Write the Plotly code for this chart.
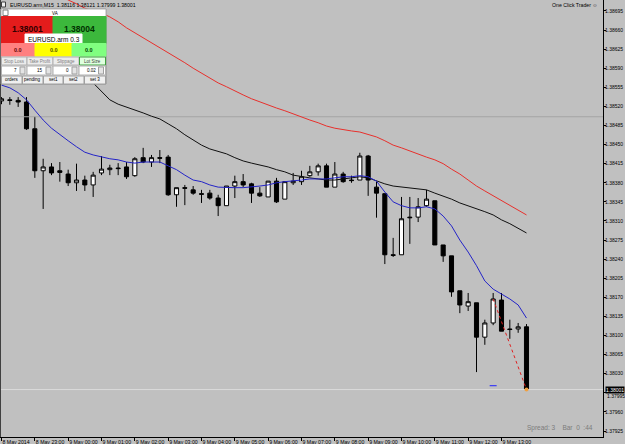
import plotly.graph_objects as go

# ---------------- data (EURUSD.arm, M15) ----------------
bar_index = list(range(64))
opens = [1.38530, 1.38532, 1.38531, 1.38528, 1.38479, 1.38402, 1.38409, 1.38402, 1.38396, 1.38380,
         1.38385, 1.38376, 1.38398, 1.38404, 1.38407, 1.38409, 1.38393, 1.38426, 1.38418, 1.38426,
         1.38427, 1.38358, 1.38371, 1.38367, 1.38360, 1.38361, 1.38352, 1.38338, 1.38374, 1.38382,
         1.38378, 1.38361, 1.38354, 1.38383, 1.38350, 1.38380, 1.38382, 1.38393, 1.38400, 1.38411,
         1.38372, 1.38396, 1.38385, 1.38385, 1.38429, 1.38372, 1.38360, 1.38248, 1.38248, 1.38317,
         1.38317, 1.38338, 1.38347, 1.38266, 1.38246, 1.38182, 1.38154, 1.38160, 1.38097, 1.38123,
         1.38165, 1.38112, 1.38112, 1.38116]
highs = [1.38537, 1.38537, 1.38537, 1.38537, 1.38501, 1.38424, 1.38416, 1.38418, 1.38404, 1.38415,
         1.38393, 1.38400, 1.38429, 1.38413, 1.38416, 1.38418, 1.38427, 1.38444, 1.38431, 1.38440,
         1.38431, 1.38371, 1.38376, 1.38374, 1.38367, 1.38367, 1.38358, 1.38374, 1.38393, 1.38396,
         1.38380, 1.38372, 1.38383, 1.38389, 1.38382, 1.38398, 1.38402, 1.38411, 1.38415, 1.38415,
         1.38418, 1.38400, 1.38393, 1.38435, 1.38431, 1.38382, 1.38360, 1.38279, 1.38354, 1.38354,
         1.38352, 1.38367, 1.38347, 1.38266, 1.38246, 1.38182, 1.38178, 1.38160, 1.38129, 1.38178,
         1.38178, 1.38129, 1.38123, 1.38121]
lows = [1.38524, 1.38523, 1.38519, 1.38477, 1.38389, 1.38332, 1.38394, 1.38382, 1.38374, 1.38365,
        1.38365, 1.38354, 1.38394, 1.38394, 1.38394, 1.38387, 1.38391, 1.38416, 1.38409, 1.38416,
        1.38356, 1.38336, 1.38339, 1.38358, 1.38343, 1.38349, 1.38319, 1.38338, 1.38352, 1.38372,
        1.38343, 1.38354, 1.38354, 1.38343, 1.38350, 1.38376, 1.38376, 1.38391, 1.38393, 1.38372,
        1.38372, 1.38380, 1.38380, 1.38385, 1.38356, 1.38316, 1.38231, 1.38244, 1.38248, 1.38268,
        1.38308, 1.38336, 1.38266, 1.38235, 1.38171, 1.38141, 1.38145, 1.38033, 1.38083, 1.38119,
        1.38108, 1.38094, 1.38105, 1.37999]
closes = [1.38534, 1.38531, 1.38528, 1.38479, 1.38402, 1.38409, 1.38398, 1.38399, 1.38380, 1.38385,
          1.38376, 1.38394, 1.38405, 1.38407, 1.38406, 1.38391, 1.38424, 1.38418, 1.38426, 1.38425,
          1.38358, 1.38371, 1.38370, 1.38361, 1.38359, 1.38352, 1.38338, 1.38374, 1.38382, 1.38376,
          1.38361, 1.38356, 1.38383, 1.38345, 1.38382, 1.38383, 1.38391, 1.38400, 1.38411, 1.38372,
          1.38396, 1.38382, 1.38384, 1.38429, 1.38385, 1.38361, 1.38248, 1.38247, 1.38314, 1.38316,
          1.38336, 1.38350, 1.38266, 1.38246, 1.38180, 1.38156, 1.38162, 1.38097, 1.38123, 1.38167,
          1.38108, 1.38111, 1.38116, 1.38001]

ma_fast_blue = [1.38559, 1.38554, 1.38545, 1.38532, 1.38513, 1.38495, 1.38480, 1.38468, 1.38457, 1.38446,
                1.38436, 1.38431, 1.38427, 1.38424, 1.38422, 1.38418, 1.38416, 1.38418, 1.38418, 1.38418,
                1.38411, 1.38404, 1.38394, 1.38385, 1.38382, 1.38376, 1.38372, 1.38371, 1.38371, 1.38371,
                1.38372, 1.38374, 1.38376, 1.38380, 1.38382, 1.38383, 1.38385, 1.38387, 1.38387, 1.38387,
                1.38389, 1.38391, 1.38391, 1.38393, 1.38391, 1.38383, 1.38363, 1.38345, 1.38338, 1.38334,
                1.38334, 1.38336, 1.38332, 1.38319, 1.38301, 1.38275, 1.38253, 1.38228, 1.38200, 1.38185,
                1.38176, 1.38167, 1.38156, 1.38132]
ma_mid_black = [None, None, None, None, None, None, None, None, 1.38614, 1.38598,
                1.38581, 1.38563, 1.38547, 1.38532, 1.38524, 1.38519, 1.38513, 1.38508, 1.38502, 1.38497,
                1.38488, 1.38479, 1.38468, 1.38458, 1.38449, 1.38442, 1.38438, 1.38433, 1.38426, 1.38420,
                1.38416, 1.38413, 1.38409, 1.38404, 1.38400, 1.38394, 1.38391, 1.38389, 1.38387, 1.38385,
                1.38385, 1.38387, 1.38389, 1.38391, 1.38389, 1.38383, 1.38378, 1.38374, 1.38372, 1.38371,
                1.38369, 1.38367, 1.38361, 1.38356, 1.38350, 1.38343, 1.38338, 1.38332, 1.38327, 1.38321,
                1.38312, 1.38305, 1.38297, 1.38288]
ma_slow_red = [None, None, None, None, None, None, None, 1.38724, 1.38715, 1.38708,
               1.38700, 1.38695, 1.38691, 1.38684, 1.38675, 1.38664, 1.38655, 1.38645, 1.38636, 1.38627,
               1.38618, 1.38609, 1.38600, 1.38590, 1.38581, 1.38572, 1.38563, 1.38556, 1.38548, 1.38541,
               1.38534, 1.38528, 1.38523, 1.38517, 1.38512, 1.38506, 1.38501, 1.38495, 1.38490, 1.38484,
               1.38480, 1.38477, 1.38475, 1.38473, 1.38469, 1.38464, 1.38457, 1.38449, 1.38444, 1.38438,
               1.38433, 1.38427, 1.38422, 1.38415, 1.38405, 1.38396, 1.38385, 1.38374, 1.38365, 1.38356,
               1.38347, 1.38338, 1.38330, 1.38321]

time_tick_bars = [0, 4, 8, 12, 16, 20, 24, 28, 32, 36, 40, 44, 48, 52, 56, 60]
time_tick_labels = ["8 May 2014", "8 May 23:00", "9 May 00:00", "9 May 01:00", "9 May 02:00",
                    "9 May 03:00", "9 May 04:00", "9 May 05:00", "9 May 06:00", "9 May 07:00",
                    "9 May 08:00", "9 May 09:00", "9 May 10:00", "9 May 11:00", "9 May 12:00",
                    "9 May 13:00"]
price_ticks = [1.38695, 1.38660, 1.38625, 1.38590, 1.38555, 1.38520, 1.38485, 1.38450, 1.38415,
               1.38380, 1.38345, 1.38310, 1.38275, 1.38240, 1.38205, 1.38170, 1.38135, 1.38100,
               1.38065, 1.38030, 1.37995, 1.37960, 1.37925]
hidden_tick = 1.37995

bid_price = 1.38001
ask_price = 1.38004
hline_level = 1.38501
trade_bars = [59, 63]
trade_prices = [1.38167, 1.38001]
marker_bar = [59]
marker_price = [1.38008]
title_text = "EURUSD.arm,M15  1.38116 1.38121 1.37999 1.38001"

# ---------------- layout geometry ----------------
W, H = 625, 444
ML, MR, MT, MB = 0, 22, 0, 7
PW, PH = W - ML - MR, H - MT - MB
Y_RANGE = [1.37914, 1.38715]
X_RANGE = [-0.18, 72.18]
BG = "#c0c0c0"
FONT = "Liberation Sans"


def px(x):
    return (x - ML) / PW


def py(y):
    return 1 - (y - MT) / PH


fig = go.Figure()

# horizontal level lines
fig.add_trace(go.Scatter(x=X_RANGE, y=[hline_level, hline_level], mode="lines",
                         line=dict(color="#a4a4a4", width=1), hoverinfo="skip", showlegend=False))
fig.add_trace(go.Scatter(x=X_RANGE, y=[bid_price, bid_price], mode="lines",
                         line=dict(color="#dadada", width=1), hoverinfo="skip", showlegend=False))

# moving averages
fig.add_trace(go.Scatter(x=bar_index, y=ma_slow_red, mode="lines",
                         line=dict(color="#e8302c", width=1), showlegend=False))
fig.add_trace(go.Scatter(x=bar_index, y=ma_mid_black, mode="lines",
                         line=dict(color="#101010", width=1), showlegend=False))
fig.add_trace(go.Scatter(x=bar_index, y=ma_fast_blue, mode="lines",
                         line=dict(color="#2424c8", width=1), showlegend=False))

# candles
fig.add_trace(go.Candlestick(
    x=bar_index, open=opens, high=highs, low=lows, close=closes,
    increasing=dict(line=dict(color="black", width=1), fillcolor="white"),
    decreasing=dict(line=dict(color="black", width=1), fillcolor="black"),
    whiskerwidth=0, showlegend=False))

# trade line
fig.add_trace(go.Scatter(x=trade_bars, y=trade_prices, mode="lines",
                         line=dict(color="#e02020", width=1, dash="dot"), showlegend=False))
fig.add_trace(go.Scatter(x=trade_bars[-1:], y=trade_prices[-1:], mode="markers",
                         marker=dict(color="#f0a040", size=4, symbol="circle"), showlegend=False))
fig.add_trace(go.Scatter(x=marker_bar, y=marker_price, mode="markers",
                         marker=dict(color="#2020ff", size=5, symbol="line-ew",
                                     line=dict(color="#2020ff", width=1)), showlegend=False))

shapes = []
ann = []


def rect(x0, y0, x1, y1, fill, line="#808080", lw=1):
    shapes.append(dict(type="rect", xref="paper", yref="paper", x0=px(x0), x1=px(x1),
                       y0=py(y0), y1=py(y1), fillcolor=fill,
                       line=dict(color=line, width=lw), layer="above"))


def text(x, y, s, size=5.5, color="black", xa="center", bold=False, bg=None):
    d = dict(xref="paper", yref="paper", x=px(x), y=py(y), text=("<b>%s</b>" % s) if bold else s,
             showarrow=False, xanchor=xa, yanchor="middle",
             font=dict(family=FONT, size=size, color=color))
    if bg:
        d["bgcolor"] = bg
    ann.append(d)


# left border
shapes.append(dict(type="line", xref="paper", yref="paper", x0=px(0.5), x1=px(0.5), y0=0, y1=1,
                   line=dict(color="#404040", width=1)))

# ---- One Click Trader panel ----
rect(1, 9, 106, 84, "#e8e8e8", "#909090")
rect(1, 9, 106, 16.5, "white", "#b0b0b0")
rect(3, 10, 8, 15.5, "white", "#808080")
text(55, 13, "VA", size=4.5)
rect(1.5, 16.5, 53, 43.5, "#e41c1c", "#e41c1c")
rect(53, 16.5, 106, 43.5, "#3cb83c", "#3cb83c")
text(27, 29, "1.38001", size=8.5, color="#300000", bold=True)
text(79.5, 29, "1.38004", size=8.5, color="#003000", bold=True)
rect(25, 34, 82, 43.5, "white", "white")
text(53.5, 39, "EURUSD.arm 0.3", size=6.5)
rect(1.5, 43.5, 35, 56, "#ff8080", "#ff8080")
rect(35, 43.5, 72, 56, "#ffff00", "#ffff00")
rect(72, 43.5, 106, 56, "#80ff80", "#80ff80")
text(18, 50, "0.0", size=5.5, color="#600000", bold=True)
text(53.5, 50, "0.0", size=5.5, color="#505000", bold=True)
text(89, 50, "0.0", size=5.5, color="#004000", bold=True)
btn = [(1.5, 27, "Stop Loss"), (27, 53, "Take Profit"), (53, 79, "Slippage")]
for a, b, s in btn:
    rect(a, 57, b, 65, "#ececec", "#b0b0b0")
    text((a + b) / 2, 61, s, size=4.5, color="#808080")
rect(79.5, 57, 105.5, 65, "#e0ffe0", "#40a040")
text(92.5, 61, "Lot Size", size=4.5, color="#404040")
inp = [(1.5, 27, "7"), (27, 53, "15"), (53, 79, "0"), (79, 105.5, "0.02")]
for a, b, s in inp:
    rect(a, 66, b, 75, "white", "#b0b0b0")
    text(b - 8, 70.5, s, size=4.5, xa="right")
    rect(b - 7, 67, b - 2, 74, "#e4e4e4", "#a0a0a0")
bot = [(1.5, 22, "orders"), (22.5, 43, "pending"), (43.5, 63, "set1"), (63.5, 84, "set2"), (84.5, 105.5, "set 3")]
for a, b, s in bot:
    rect(a, 76, b, 84, "#f0f0f0", "#a0a0a0")
    text((a + b) / 2, 80, s, size=4.5)

# title / corner texts
shapes.append(dict(type="rect", xref="paper", yref="paper", x0=px(1.5), x1=px(5.5), y0=py(2), y1=py(7),
                   fillcolor="#f0f0f0", line=dict(color="#404040", width=1)))
text(8, 4.8, title_text, size=5.2, xa="left")
text(600, 5, "One Click Trader \u263a", size=5.2, xa="right")
text(595, 428, "Spread: 3    Bar  0  :44", size=6.5, color="#7c7c7c", xa="right")

# current price box, and the partly covered tick label just below it
ann.append(dict(xref="paper", yref="y", x=px(605), y=bid_price, text="1.38001", showarrow=False,
                xanchor="left", yanchor="middle", bgcolor="black", borderpad=0,
                font=dict(family=FONT, size=5, color="white")))
ann.append(dict(xref="paper", yref="paper", x=px(605), y=py(396), text="%.5f" % hidden_tick,
                showarrow=False, xanchor="left", yanchor="middle",
                font=dict(family=FONT, size=5, color="black")))

ytext = ["" if abs(v - hidden_tick) < 1e-9 else "%.5f" % v for v in price_ticks]

fig.update_layout(
    width=W, height=H, margin=dict(l=ML, r=MR, t=MT, b=MB, autoexpand=False),
    paper_bgcolor=BG, plot_bgcolor=BG,
    shapes=shapes, annotations=ann, showlegend=False,
    xaxis=dict(range=X_RANGE, rangeslider=dict(visible=False), showgrid=False, zeroline=False,
               automargin=False, tickangle=0,
               tickmode="array", tickvals=time_tick_bars, ticktext=time_tick_labels,
               ticks="outside", ticklen=3, tickcolor="black", ticklabelposition="outside right",
               showline=True, linecolor="black", linewidth=1,
               tickfont=dict(family=FONT, size=5.2, color="black")),
    yaxis=dict(range=Y_RANGE, side="right", showgrid=False, zeroline=False, automargin=False,
               tickmode="array", tickvals=price_ticks, ticktext=ytext,
               ticks="outside", ticklen=2, tickcolor="black", ticklabelstandoff=-2,
               showline=True, linecolor="black", linewidth=1,
               tickfont=dict(family=FONT, size=5, color="black")),
)

fig.write_html("out.html")
